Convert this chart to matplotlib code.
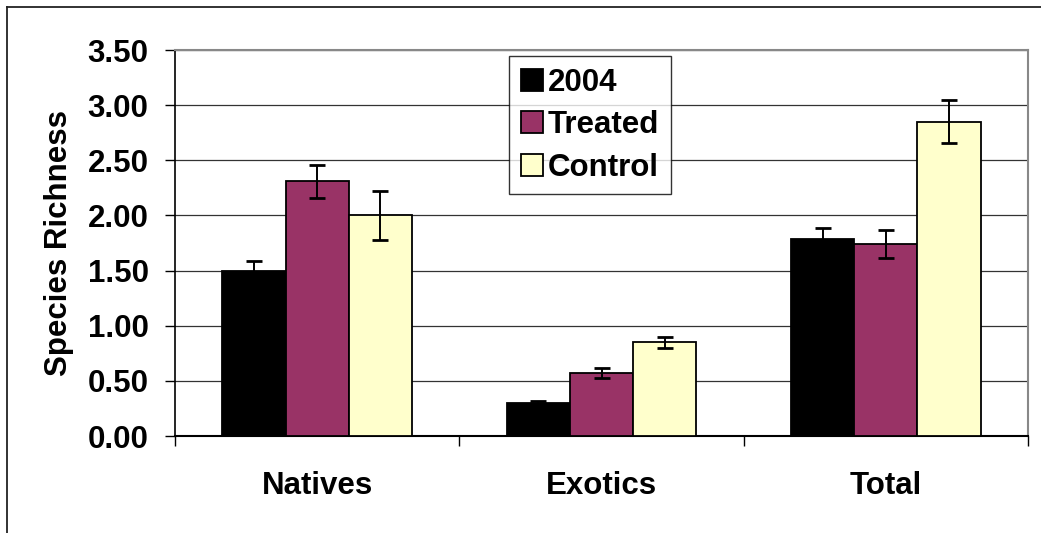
import matplotlib
matplotlib.use("Agg")
import matplotlib.pyplot as plt
import numpy as np
from matplotlib.lines import Line2D

# dane
kategorie = ["Natives", "Exotics", "Total"]
serie = ["2004", "Treated", "Control"]
wartosci_2004 = [1.50, 0.30, 1.79]
wartosci_treated = [2.31, 0.57, 1.74]
wartosci_control = [2.00, 0.85, 2.85]
bledy_2004 = [0.09, 0.02, 0.095]
bledy_treated = [0.15, 0.047, 0.13]
bledy_control = [0.22, 0.05, 0.195]
kolory = ["#000000", "#993366", "#FFFFCC"]

plt.rcParams['font.family'] = ['Liberation Sans', 'DejaVu Sans']
plt.rcParams['font.weight'] = 'bold'
rozmiar = 22.5

fig = plt.figure(figsize=(10.41, 5.33), dpi=100)
ax = fig.add_axes([175/1041, 1 - 436/533, 853/1041, 386/533])

# ramka calego wykresu (widoczna tylko lewa i gorna krawedz)
fig.add_artist(Line2D([7/1041, 7/1041], [0, 1 - 7/533], color="#222222", lw=1.3))
fig.add_artist(Line2D([7/1041, 1], [1 - 7/533, 1 - 7/533], color="#222222", lw=1.3))

x = np.arange(len(kategorie))
szer = 1 / 4.5
wszystkie = [wartosci_2004, wartosci_treated, wartosci_control]
wszystkie_bledy = [bledy_2004, bledy_treated, bledy_control]
for i in range(3):
    pos = x + (i - 1) * szer
    ax.bar(pos, wszystkie[i], width=szer, color=kolory[i], edgecolor="black",
           linewidth=1.3, label=serie[i], zorder=3)
    ax.errorbar(pos, wszystkie[i], yerr=wszystkie_bledy[i], fmt="none", ecolor="black",
                elinewidth=1.4, capsize=5.5, capthick=2.0, zorder=4)

ax.set_xlim(-0.5, 2.5)
ax.set_ylim(0, 3.5)
ax.set_yticks(np.arange(0, 3.51, 0.5))
ax.set_yticklabels(["%.2f" % v for v in np.arange(0, 3.51, 0.5)], fontsize=rozmiar, fontweight="bold")
ax.set_xticks(x)
ax.set_xticklabels(kategorie, fontsize=rozmiar, fontweight="bold")
ax.set_xticks([-0.5, 0.5, 1.5, 2.5], minor=True)
ax.tick_params(axis="x", which="major", length=0, pad=25)
ax.tick_params(axis="x", which="minor", length=7, width=1, direction="out")
ax.tick_params(axis="y", length=7, width=1, direction="out", pad=12)

ax.yaxis.grid(True, color="#333333", lw=0.9, zorder=0)
ax.set_axisbelow(True)
ax.spines["top"].set_color("#888888")
ax.spines["right"].set_color("#888888")
ax.spines["top"].set_linewidth(1.5)
ax.spines["right"].set_linewidth(1.5)
ax.spines["left"].set_linewidth(1.2)
ax.spines["bottom"].set_linewidth(1.5)

ax.set_ylabel("Species Richness", fontsize=rozmiar, fontweight="bold")
ax.yaxis.set_label_coords(-0.118, 0.5)

leg = ax.legend(loc="upper left", bbox_to_anchor=(0.3916, 0.9852), borderaxespad=0,
                fontsize=rozmiar, frameon=True, fancybox=False, handlelength=0.7, handleheight=0.7,
                handletextpad=0.15, labelspacing=0.4, borderpad=0.38)
leg.get_frame().set_edgecolor("black")
leg.get_frame().set_linewidth(1.0)
for t in leg.get_texts():
    t.set_fontweight("bold")

fig.savefig("out.png", dpi=100)
